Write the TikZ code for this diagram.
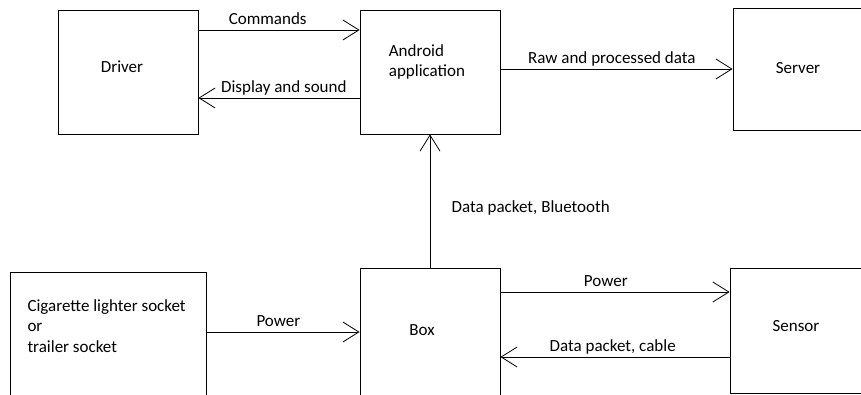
\documentclass[tikz,border=0pt]{standalone}
\usepackage{fontspec}
\setmainfont{Carlito}
\usetikzlibrary{arrows.meta,positioning}

\tikzset{
  block/.style={draw, line width=0.8pt, minimum width=140pt, minimum height=124pt, inner sep=0pt},
  flow/.style={line width=0.8pt, -{Straight Barb[length=16pt,width=20pt]}},
  lbl/.style={inner sep=0pt, text depth=0pt, above=5.5pt},
}

\begin{document}
\begin{tikzpicture}[x=1pt, y=-1pt, font=\fontsize{17}{20.5}\selectfont]
    \useasboundingbox (0,0) rectangle (861,395);

    % upper row
    \node[block] (driver) at (128,72) {};
    \node (drivertxt) at (122,67) {Driver};
    \node[block] (android) at (430,72) {};
    \node[align=left] (androidtxt) at (427,62) {Android\\application};
    \node[block, minimum width=147pt, minimum height=122pt] (server) at (806.5,69) {};
    \node (servertxt) at (798,68) {Server};

    % lower row (boxes run past the page edge)
    \node[block, minimum width=196pt, minimum height=148pt] (socket) at (108,346) {};
    \node[align=left, anchor=west] (sockettxt) at (24,326) {Cigarette lighter socket\\or\\trailer socket};
    \node[block, minimum height=152pt] (box) at (430,344) {};
    \node (boxtxt) at (422,330) {Box};
    \node[block, minimum width=150pt, minimum height=125pt] (sensor) at (805,330.5) {};
    \node (sensortxt) at (796,326) {Sensor};

    % connections
    \draw[flow] ([yshift=42pt]driver.east) -- node[lbl, pos=0.43] (cmd) {Commands} ([yshift=42pt]android.west);
    \draw[flow] ([yshift=-26pt]android.west) -- node[lbl, pos=0.47] (disp) {Display and sound} ([yshift=-26pt]driver.east);
    \draw[flow] (android.east |- server.west) -- node[lbl, pos=0.48] (raw) {Raw and processed data} (server.west);
    \draw[flow] (box.north) -- node[right=18pt, pos=0.45] (bt) {Data packet, Bluetooth} (android.south);
    \draw[flow] ([yshift=14pt]socket.east) -- node[lbl, pos=0.47] (pwrin) {Power} ([yshift=12pt]box.west);
    \draw[flow] ([yshift=52pt]box.east) -- node[lbl, pos=0.46] (pwrout) {Power} ([yshift=38.5pt]sensor.west);
    \draw[flow] ([yshift=-26.5pt]sensor.west) -- node[lbl, pos=0.51] (cable) {Data packet, cable} ([yshift=-13pt]box.east);
\end{tikzpicture}
\end{document}
